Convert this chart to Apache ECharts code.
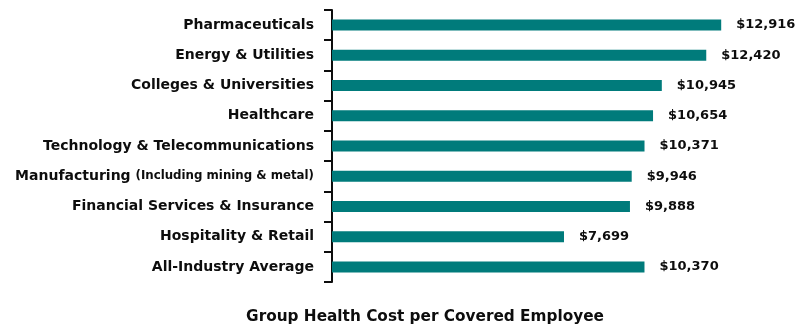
<!DOCTYPE html>
<html>
<head>
<meta charset="utf-8">
<script src="https://cdn.jsdelivr.net/npm/echarts@6/dist/echarts.min.js"></script>
<style>
  html, body { margin: 0; padding: 0; background: #fff; }
  #chart { width: 807px; height: 326px; }
</style>
</head>
<body>
<div id="chart"></div>
<script>
// Industry categories, top to bottom
const industries = [
  'Pharmaceuticals',
  'Energy & Utilities',
  'Colleges & Universities',
  'Healthcare',
  'Technology & Telecommunications',
  'Manufacturing',
  'Financial Services & Insurance',
  'Hospitality & Retail',
  'All-Industry Average'
];
// Group health cost per covered employee (USD)
const costs = [12916, 12420, 10945, 10654, 10371, 9946, 9888, 7699, 10370];
const axisTitle = 'Group Health Cost per Covered Employee';

const FONT = '"DejaVu Sans", "Liberation Sans", sans-serif';
const INK = '#0d0d0d';
const chart = echarts.init(document.getElementById('chart'), null, { renderer: 'canvas' });

const fmt = v => '$' + v.toLocaleString('en-US');

chart.setOption({
  animation: false,
  grid: { left: 332, right: 23, top: 10, height: 272 },
  xAxis: {
    type: 'value',
    min: 0,
    max: 15000,
    show: false
  },
  yAxis: {
    type: 'category',
    inverse: true,
    data: industries,
    axisLine: { show: true, lineStyle: { color: INK, width: 2 } },
    axisTick: { show: true, length: 8, lineStyle: { color: INK, width: 2 } },
    axisLabel: {
      margin: 18,
      fontFamily: FONT,
      fontWeight: 'bold',
      fontSize: 14,
      color: INK,
      formatter: v => v === 'Manufacturing'
        ? '{a|Manufacturing} {b|(Including mining & metal)}'
        : v,
      rich: {
        a: { fontFamily: FONT, fontWeight: 'bold', fontSize: 14, color: INK },
        b: { fontFamily: FONT, fontWeight: 'bold', fontSize: 11.8, color: INK }
      }
    },
    splitLine: { show: false }
  },
  series: [{
    type: 'bar',
    data: costs,
    barWidth: 11,
    itemStyle: { color: '#007b7b' },
    label: {
      show: true,
      position: 'right',
      distance: 15,
      fontFamily: FONT,
      fontWeight: 'bold',
      fontSize: 13,
      color: INK,
      formatter: p => fmt(p.value)
    }
  }],
  graphic: [{
    type: 'text',
    x: 425,
    y: 317,
    style: {
      text: axisTitle,
      textAlign: 'center',
      textVerticalAlign: 'middle',
      fontFamily: FONT,
      fontWeight: 'bold',
      fontSize: 15.3,
      fill: INK
    }
  }]
});
</script>
</body>
</html>
